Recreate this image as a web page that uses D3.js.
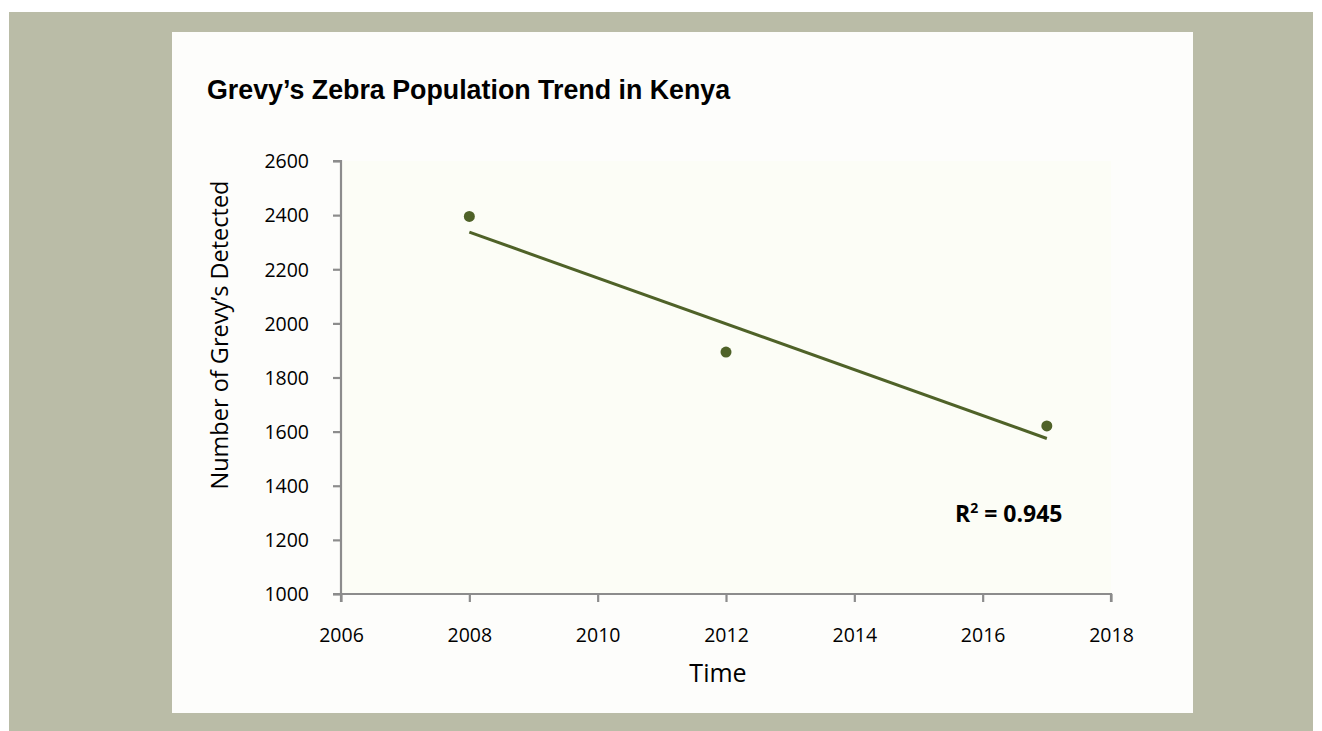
<!DOCTYPE html>
<html><head><meta charset="utf-8">
<script src="https://cdn.jsdelivr.net/npm/d3@7"></script>
<style>html,body{margin:0;padding:0;background:#fff;}svg{display:block;}</style>
</head><body>
<svg id="c" width="1322" height="731"></svg>
<script>
const years = [2008, 2012, 2017];
const counts = [2395, 1894, 1621];
const xTicks = [2006, 2008, 2010, 2012, 2014, 2016, 2018];
const yTicks = [1000, 1200, 1400, 1600, 1800, 2000, 2200, 2400, 2600];
const title = "Grevy\u2019s Zebra Population Trend in Kenya";
const yLabel = "Number of Grevy\u2019s Detected";
const xLabel = "Time";
const r2Text = "0.945";

const svg = d3.select("#c");
svg.append("rect").attr("x",9).attr("y",12).attr("width",1304).attr("height",719).attr("fill","#babca7");
svg.append("rect").attr("x",172).attr("y",32).attr("width",1021).attr("height",681).attr("fill","#fdfdfb");

const x = d3.scaleLinear().domain([2006,2018]).range([341,1111]);
const y = d3.scaleLinear().domain([1000,2600]).range([594,161]);

svg.append("rect").attr("x",x(2006)).attr("y",y(2600)).attr("width",x(2018)-x(2006)).attr("height",y(1000)-y(2600)).attr("fill","#fcfdf6");

const tickFont = "'Open Sans', 'Noto Sans', sans-serif";
const gx = svg.append("g").attr("transform",`translate(0,${y(1000)})`)
  .call(d3.axisBottom(x).tickValues(xTicks).tickFormat(d3.format("d")).tickSize(8).tickPadding(26));
const gy = svg.append("g").attr("transform",`translate(${x(2006)},0)`)
  .call(d3.axisLeft(y).tickValues(yTicks).tickFormat(d3.format("d")).tickSize(8).tickPadding(24));
[gx,gy].forEach(g=>{
  g.selectAll("path,line").attr("stroke","#8c8c8c").attr("stroke-width",2.2);
  g.select(".domain").attr("d", g===gx ? `M${x(2006)},8V0H${x(2018)}V8` : `M-8,${y(2600)}H0V${y(1000)}H-8`);
  g.selectAll("text").attr("font-family",tickFont).attr("font-size",19.5).attr("fill","#000");
});
gx.selectAll("text").attr("dy","0.71em");
gy.selectAll("text").attr("text-anchor","end").attr("x",-32).attr("dy","0.35em");

// regression
const mx = d3.mean(years), my = d3.mean(counts);
let sxy=0,sxx=0;
years.forEach((v,i)=>{sxy+=(v-mx)*(counts[i]-my); sxx+=(v-mx)*(v-mx);});
const slope = sxy/sxx, icpt = my - slope*mx;
const x0 = d3.min(years), x1 = d3.max(years);
svg.append("line").attr("x1",x(x0)).attr("y1",y(icpt+slope*x0)).attr("x2",x(x1)).attr("y2",y(icpt+slope*x1))
  .attr("stroke","#4f6228").attr("stroke-width",3);

svg.selectAll("circle.pt").data(years.map((v,i)=>[v,counts[i]])).enter().append("circle")
  .attr("class","pt").attr("cx",d=>x(d[0])).attr("cy",d=>y(d[1])).attr("r",5.5).attr("fill","#4f6228");

svg.append("text").attr("x",207).attr("y",99).attr("font-family","'Liberation Sans', Arial, sans-serif")
  .attr("font-weight","bold").attr("font-size",26.8).attr("fill","#000").text(title);

svg.append("text").attr("transform",`translate(228,335) rotate(-90)`).attr("text-anchor","middle")
  .attr("font-family",tickFont).attr("font-size",23.5).attr("fill","#000").text(yLabel);
svg.append("text").attr("x",x(2012)-8).attr("y",682).attr("text-anchor","middle")
  .attr("font-family",tickFont).attr("font-size",25).attr("fill","#000").text(xLabel);

const r2 = svg.append("text").attr("x",955).attr("y",522).attr("font-family",tickFont)
  .attr("font-weight","bold").attr("font-size",23).attr("fill","#000");
r2.append("tspan").text("R");
r2.append("tspan").attr("dy",-9).attr("font-size",14).text("2");
r2.append("tspan").attr("dy",9).text(" = " + r2Text);
</script>
</body></html>
